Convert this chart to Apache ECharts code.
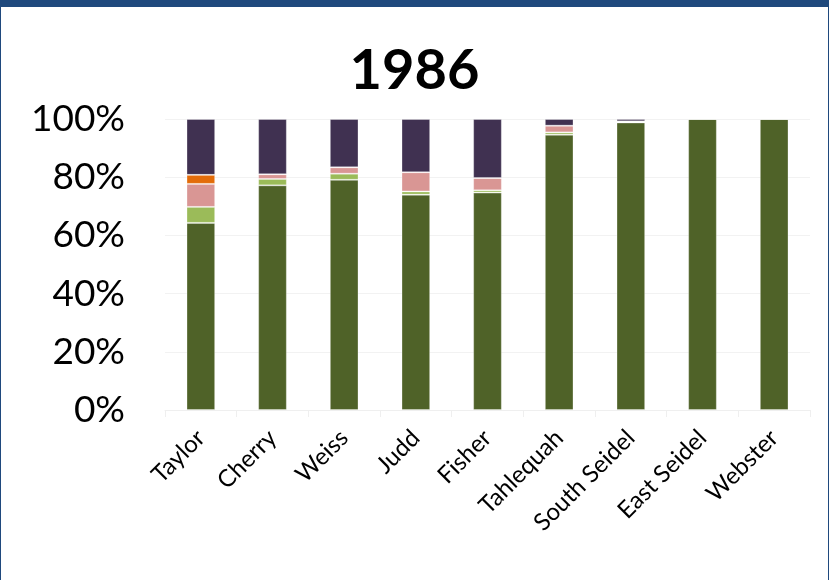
<!DOCTYPE html>
<html>
<head>
<meta charset="utf-8">
<script src="https://cdn.jsdelivr.net/npm/echarts@6/dist/echarts.min.js"></script>
<style>
  html, body { margin: 0; padding: 0; background: #fff; }
  #main { width: 829px; height: 580px; }
</style>
</head>
<body>
<div id="main"></div>
<script>
var sites = ['Taylor', 'Cherry', 'Weiss', 'Judd', 'Fisher', 'Tahlequah', 'South Seidel', 'East Seidel', 'Webster'];

// percent composition, bottom to top
var groupA = [64.3, 77.2, 79.1, 74.0, 74.7, 94.6, 98.8, 100, 100];
var groupB = [5.5, 2.2, 2.1, 1.1, 0.8, 0.8, 0.4, 0, 0];
var groupC = [7.9, 1.6, 2.2, 6.6, 4.2, 2.3, 0, 0, 0];
var groupD = [3.1, 0, 0, 0, 0, 0, 0, 0, 0];
var groupE = [19.2, 19.0, 16.6, 18.3, 20.3, 2.3, 0.8, 0, 0];

var yTicks = [0, 20, 40, 60, 80, 100];

var chartDom = document.getElementById('main');
var myChart = echarts.init(chartDom);
var option;

function layer(name, data, color) {
  return {
    name: name,
    type: 'bar',
    stack: 'total',
    barWidth: '40%',
    data: data,
    itemStyle: { color: color, borderColor: 'rgba(255,255,255,0.3)', borderWidth: 1 },
    emphasis: { disabled: true }
  };
}

option = {
  animation: false,
  textStyle: { fontFamily: 'Lato, "Open Sans", sans-serif' },
  title: {
    text: '1986',
    left: 'center',
    top: 38,
    textStyle: { fontSize: 56, fontWeight: 'bold', color: '#000', fontFamily: 'Lato, "Open Sans", sans-serif' }
  },
  graphic: [
    { type: 'rect', left: 0, top: 0, shape: { width: 829, height: 7 }, style: { fill: '#1F497D' } },
    { type: 'rect', left: 0, top: 0, shape: { width: 1, height: 580 }, style: { fill: '#1F497D' } },
    { type: 'rect', right: 0, top: 0, shape: { width: 1, height: 580 }, style: { fill: '#1F497D' } }
  ],
  grid: { left: 165, right: 19, top: 119, bottom: 170 },
  xAxis: {
    type: 'category',
    data: sites,
    axisLine: { lineStyle: { color: '#efefef' } },
    axisTick: { show: true, length: 7, lineStyle: { color: '#efefef' } },
    axisLabel: { rotate: 45, fontSize: 24, color: '#000', margin: 24, interval: 0 }
  },
  yAxis: {
    type: 'value',
    min: yTicks[0],
    max: yTicks[yTicks.length - 1],
    interval: 20,
    axisLine: { show: false },
    axisTick: { show: false },
    splitLine: { lineStyle: { color: '#f2f2f2' } },
    axisLabel: { fontSize: 37, color: '#000', margin: 40, formatter: '{value}%' }
  },
  series: [
    layer('A', groupA, '#4F6228'),
    layer('B', groupB, '#9BBB59'),
    layer('C', groupC, '#D99694'),
    layer('D', groupD, '#E36C09'),
    layer('E', groupE, '#403151')
  ]
};

option && myChart.setOption(option);
</script>
</body>
</html>
